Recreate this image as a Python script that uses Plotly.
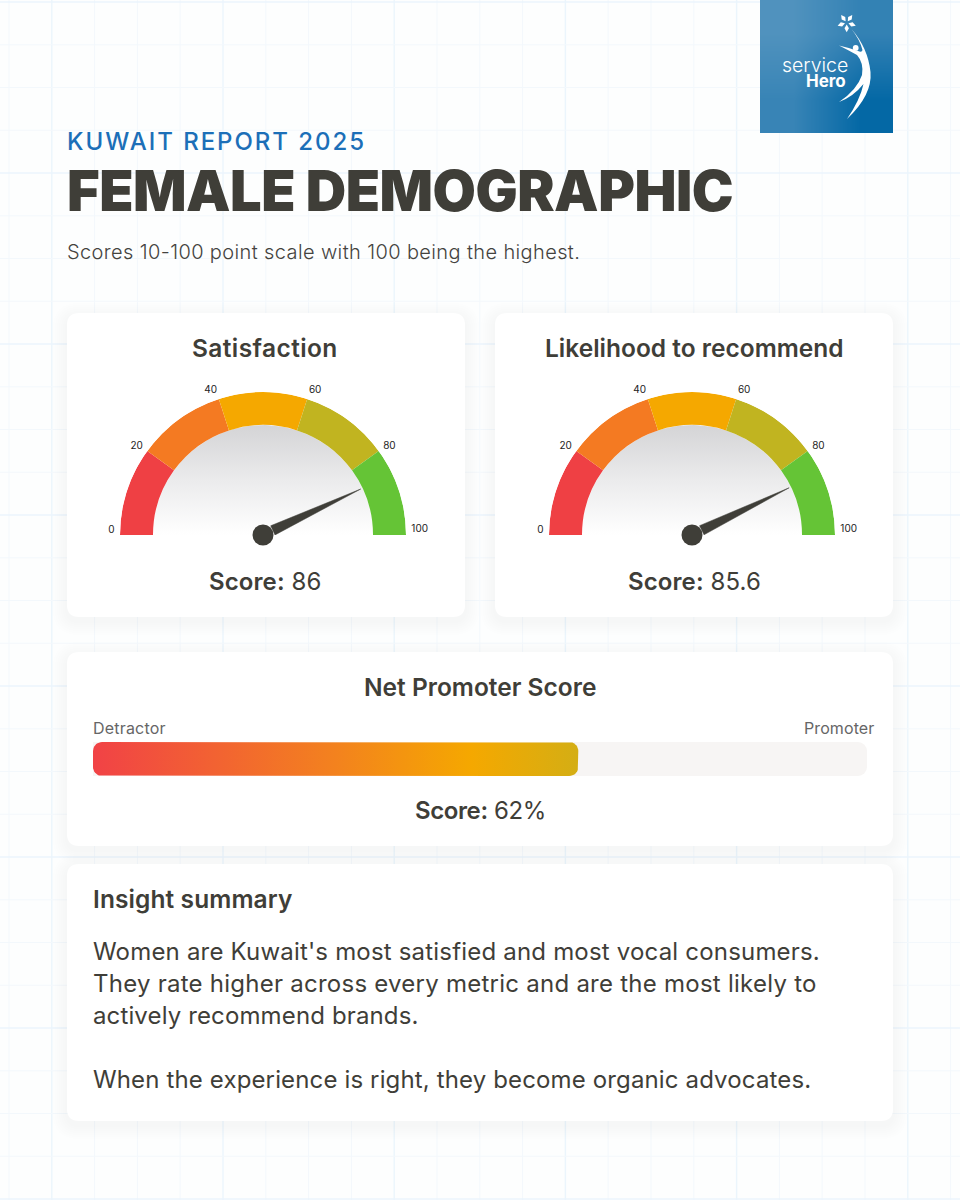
import numpy as np
import plotly.graph_objects as go

# chart values
gauge_titles = ["Satisfaction", "Likelihood to recommend"]
gauge_scores = [86, 85.6]
gauge_ticks = [0, 20, 40, 60, 80, 100]
band_colors = ["#EF4044", "#F47A22", "#F5A800", "#C1B420", "#65C436"]
nps_title = "Net Promoter Score"
nps_bar_value = 62.7  # where the fill really ends on the track
nps_label = "62%"
nps_ends = ["Detractor", "Promoter"]
insight_title = "Insight summary"
insight_lines = [
    "Women are Kuwait's most satisfied and most vocal consumers.",
    "They rate higher across every metric and are the most likely to",
    "actively recommend brands.",
    "",
    "When the experience is right, they become organic advocates.",
]

W, H = 960, 1200
FONT = "Inter"
INK = "#3F3E38"
INNER = 110 / 143  # hole of the gauge, share of the radius


def rounded(x0, y0, x1, y1, r):
    return (f"M {x0+r} {y0} L {x1-r} {y0} Q {x1} {y0} {x1} {y0+r} L {x1} {y1-r} Q {x1} {y1} {x1-r} {y1} "
            f"L {x0+r} {y1} Q {x0} {y1} {x0} {y1-r} L {x0} {y0+r} Q {x0} {y0} {x0+r} {y0} Z")


def to_angle(v):
    return 180 * (1 - v / 100)


def txt(x, y, text, size, color=INK, anchor="left", weight=400):
    # annotations carry about 2px of padding
    x = x - 2 if anchor == "left" else x + 2 if anchor == "right" else x
    return dict(x=x, y=y, xref="x", yref="y", text=text, showarrow=False, xanchor=anchor, yanchor="middle",
                font=dict(family=FONT, size=size, color=color, weight=weight))


def spaced(text, px):
    return f'<span style="letter-spacing:{px}px">{text}</span>'


def score_text(value, px):
    return spaced('<span style="font-weight:600">Score:</span> ' + str(value), px)


shapes = []
# background grid
for i in range(23):
    major = (i - 1) % 4 == 0
    xg = 9 + 42.8 * i
    shapes.append(dict(type="line", x0=xg, x1=xg, y0=0, y1=H, layer="below",
                       line=dict(color="#EBF5FC" if major else "#F3F8FC", width=1.4 if major else 1)))
for i in range(29):
    major = i % 4 == 0
    yg = 2 + 42.75 * i
    shapes.append(dict(type="line", x0=0, x1=W, y0=yg, y1=yg, layer="below",
                       line=dict(color="#EBF5FC" if major else "#F3F8FC", width=1.4 if major else 1)))

# cards with a soft shadow
cards = [(67, 313, 465, 617), (495, 313, 893, 617), (67, 652, 893, 846), (67, 864, 893, 1121)]
for x0, y0, x1, y1 in cards:
    for grow in range(14, 0, -2):
        shapes.append(dict(type="path", path=rounded(x0 - grow, y0 - grow + 4, x1 + grow, y1 + grow + 4, 12 + grow),
                           fillcolor="rgba(70,80,100,0.009)", line_width=0, layer="below"))
    shapes.append(dict(type="path", path=rounded(x0, y0, x1, y1, 12), fillcolor="#FFFFFF", line_width=0, layer="below"))

fig = go.Figure()

# logo background
fig.add_trace(go.Heatmap(x=[760, 826.5, 893], y=[0, 66.5, 133], z=[[0.12, 0.45], [0.4, 1]], zsmooth="best",
                         colorscale=[[0, "#5A98C1"], [0.5, "#2F7FB3"], [1, "#0468A5"]], zmin=0, zmax=1,
                         showscale=False, hoverinfo="skip"))

# logo mark
swoosh = ("M 851.5 29 Q 868 48 870.5 72 Q 872.5 95 847 119 Q 860 100 863.5 84 Q 853 97 839 102 "
          "Q 857 90 862 75 Q 864 63 857 55 Q 848 50 839 45.5 Q 850 48 858 51 Q 862 53 862.5 50 Q 860 40 851.5 29 Z")
shapes.append(dict(type="path", path=swoosh, fillcolor="#FFFFFF", line_width=0, layer="above"))
shapes.append(dict(type="circle", x0=852.8, x1=858.6, y0=45, y1=50.8, fillcolor="#FFFFFF", line_width=0, layer="above"))
for k in range(5):
    a = np.radians(-90 + 36 + 72 * k)
    n = a + np.pi / 2
    cx, cy = 846.7, 22.7
    p0 = (cx + 1.8 * np.cos(a), cy + 1.8 * np.sin(a))
    p1 = (cx + 5.5 * np.cos(a) + 2.2 * np.cos(n), cy + 5.5 * np.sin(a) + 2.2 * np.sin(n))
    p2 = (cx + 9.5 * np.cos(a), cy + 9.5 * np.sin(a))
    p3 = (cx + 5.5 * np.cos(a) - 2.2 * np.cos(n), cy + 5.5 * np.sin(a) - 2.2 * np.sin(n))
    shapes.append(dict(type="path", layer="above", fillcolor="#FFFFFF", line_width=0,
                       path=f"M {p0[0]} {p0[1]} L {p1[0]} {p1[1]} L {p2[0]} {p2[1]} L {p3[0]} {p3[1]} Z"))

# gauges
gauge_centers = [263, 692]
R = 143
BASE_Y = 535
# end labels sit a little above the baseline in the original
tick_angles = [to_angle(v) for v in gauge_ticks]
tick_angles[0] -= 2
tick_angles[-1] += 2.5
polar_layout = {}
for i, (cx, score) in enumerate(zip(gauge_centers, gauge_scores)):
    name = "polar" if i == 0 else f"polar{i+1}"

    # grey dish under the needle, gradient only exists on cartesian scatter
    t = np.linspace(0, np.pi, 90)
    fig.add_trace(go.Scatter(x=cx + R * INNER * np.cos(t), y=BASE_Y - R * INNER * np.sin(t), mode="lines", line_width=0,
                             fill="toself", hoverinfo="skip",
                             fillgradient=dict(type="vertical", start=BASE_Y - R * INNER, stop=BASE_Y,
                                               colorscale=[[0, "#D4D4D6"], [0.5, "#EBEBEC"], [1, "#FFFFFF"]])))

    mids = [(gauge_ticks[j] + gauge_ticks[j + 1]) / 2 for j in range(len(band_colors))]
    widths = [to_angle(gauge_ticks[j]) - to_angle(gauge_ticks[j + 1]) for j in range(len(band_colors))]
    fig.add_trace(go.Barpolar(subplot=name, r=[1 - INNER] * 5, base=[INNER] * 5, theta=[to_angle(m) for m in mids],
                              width=widths, marker=dict(color=band_colors, line_width=0), hoverinfo="skip"))

    a = to_angle(score)
    fig.add_trace(go.Scatterpolar(subplot=name, r=[12 / R, 12 / R, 108 / R, 12 / R], theta=[a + 25, a - 25, a, a + 25],
                                  mode="lines", fill="toself", fillcolor=INK, line=dict(color=INK, width=0.5),
                                  hoverinfo="skip", cliponaxis=False))
    fig.add_trace(go.Scatterpolar(subplot=name, r=[0], theta=[a], mode="markers", cliponaxis=False,
                                  marker=dict(color=INK, size=21, line_width=0), hoverinfo="skip"))

    polar_layout[name] = dict(
        domain=dict(x=[(cx - R) / W, (cx + R) / W], y=[1 - BASE_Y / H, 1 - (BASE_Y - R) / H]),
        sector=[0, 180], bgcolor="rgba(0,0,0,0)",
        radialaxis=dict(visible=False, range=[0, 1]),
        angularaxis=dict(rotation=0, direction="counterclockwise", tickmode="array",
                         tickvals=tick_angles, ticktext=[str(v) for v in gauge_ticks],
                         ticks="outside", ticklen=3, tickcolor="rgba(0,0,0,0)", showgrid=False, showline=False,
                         tickfont=dict(family=FONT, size=10, color="#222222")),
    )

# NPS bar on its own axes
fig.add_trace(go.Bar(x=[100], y=[0], orientation="h", width=1, xaxis="x2", yaxis="y2",
                     marker=dict(color="#F7F5F4", line_width=0, cornerradius=9), hoverinfo="skip"))
rx, ry = 9 / 7.74, 9 / 34
t = np.linspace(0, np.pi / 2, 10)
end = nps_bar_value
bx = np.concatenate([rx - rx * np.cos(t), end - rx + rx * np.sin(t), end - rx + rx * np.cos(t), rx - rx * np.sin(t)])
by = np.concatenate([0.5 - ry + ry * np.sin(t), 0.5 - ry + ry * np.cos(t), -0.5 + ry - ry * np.sin(t),
                     -0.5 + ry - ry * np.cos(t)])
fig.add_trace(go.Scatter(x=bx, y=by, xaxis="x2", yaxis="y2", mode="lines", line_width=0, fill="toself", hoverinfo="skip",
                         fillgradient=dict(type="horizontal", start=0, stop=end,
                                           colorscale=[[0, "#F14246"], [0.5, "#F3821E"], [0.78, "#F5A800"],
                                                       [1, "#D4AE14"]])))

# texts
notes = [
    txt(67, 141, spaced("KUWAIT REPORT 2025", 1.95), 24, "#1C6FB8", weight=500),
    txt(67, 191, spaced("FEMALE DEMOGRAPHIC", -0.5), 56, INK, weight=900),
    txt(67, 252, spaced("Scores 10-100 point scale with 100 being the highest.", 0.38), 20, "#44433E", weight=300),
    txt(814.5, 65, "service", 19.5, "#FFFFFF", "center", weight=300),
    txt(846, 81, "Hero", 17, "#FFFFFF", "right", weight=700),
    txt(480, 687, nps_title, 24.5, weight=600, anchor="center"),
    txt(93, 728, spaced(nps_ends[0], 0.2), 16, "#666666"),
    txt(874, 728, spaced(nps_ends[1], 0.1), 16, "#666666", "right"),
    txt(480, 810, score_text(nps_label, -0.4), 24, anchor="center", weight=400),
    txt(93, 899, spaced(insight_title, 0.1), 24.5, weight=600),
]
for cx, title, score, px in zip(gauge_centers, gauge_titles, gauge_scores, [0.4, 0]):
    notes.append(txt(cx + 2, 348, spaced(title, px), 24.5, anchor="center", weight=600))
    notes.append(txt(cx + 2, 581, score_text(score, 0.1), 24, anchor="center"))
line_spacing = [0.19, 0.25, 0.13, 0, 0.14]
for i, line in enumerate(insight_lines):
    if line:
        notes.append(txt(93, 951 + 32 * i, spaced(line, line_spacing[i]), 24))

hidden = dict(visible=False, showgrid=False, zeroline=False, fixedrange=True)
fig.update_layout(
    width=W, height=H, autosize=False, margin=dict(l=0, r=0, t=0, b=0),
    paper_bgcolor="#FDFEFE", plot_bgcolor="rgba(0,0,0,0)", showlegend=False,
    xaxis=dict(range=[0, W], **hidden), yaxis=dict(range=[H, 0], **hidden),
    xaxis2=dict(domain=[93 / W, 867 / W], range=[0, 100], anchor="y2", **hidden),
    yaxis2=dict(domain=[1 - 776 / H, 1 - 742 / H], range=[-0.5, 0.5], anchor="x2", **hidden),
    shapes=shapes, annotations=notes, **polar_layout,
)

fig.write_html("out.html", config=dict(displayModeBar=False), post_script="document.body.style.margin='0'")
